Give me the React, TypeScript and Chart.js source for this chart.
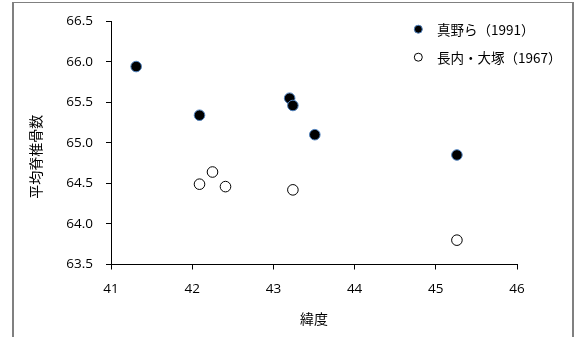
import React, { useEffect, useRef } from "react";
import { Chart, registerables } from "chart.js";

Chart.register(...registerables);

// ---- data ----
const seriesLabels = ["真野ら（1991）", "長内・大塚（1967）"];
const manoLatitude = [41.31, 42.09, 43.2, 43.24, 43.51, 45.26];
const manoVertebrae = [65.94, 65.34, 65.55, 65.46, 65.1, 64.85];
const osanaiLatitude = [42.09, 42.25, 42.41, 43.24, 45.26];
const osanaiVertebrae = [64.49, 64.64, 64.46, 64.42, 63.8];
const xTickValues = [41, 42, 43, 44, 45, 46];
const yTickValues = [63.5, 64.0, 64.5, 65.0, 65.5, 66.0, 66.5];
const xTitle = "緯度";
const yTitle = "平均脊椎骨数";

const W = 574;
const H = 337;
const CJK = '"Noto Sans CJK JP", "Noto Sans CJK SC", sans-serif';
const NUM = '"Open Sans", "Liberation Sans", sans-serif';

const insideLegend = {
  id: "insideLegend",
  afterDraw(chart: any) {
    const ctx = chart.ctx as CanvasRenderingContext2D;
    ctx.save();
    const rows = [29.2, 57.2];
    chart.data.datasets.forEach((ds: any, i: number) => {
      const y = rows[i];
      ctx.beginPath();
      ctx.arc(418.3, y, 4, 0, Math.PI * 2);
      ctx.fillStyle = ds.backgroundColor;
      ctx.fill();
      ctx.lineWidth = 1;
      ctx.strokeStyle = ds.borderColor;
      ctx.stroke();
      ctx.fillStyle = "#000";
      ctx.font = `13.5px ${CJK}`;
      ctx.textAlign = "left";
      ctx.textBaseline = "middle";
      ctx.fillText(ds.label, 437, y + 0.5);
    });
    ctx.restore();
  },
};

export default function App() {
  const ref = useRef<HTMLCanvasElement | null>(null);

  useEffect(() => {
    if (!ref.current) return;
    const chart = new Chart(ref.current, {
      type: "scatter",
      data: {
        datasets: [
          {
            label: seriesLabels[0],
            data: manoLatitude.map((x, i) => ({ x, y: manoVertebrae[i] })),
            backgroundColor: "#000000",
            borderColor: "#4f81bd",
            borderWidth: 1,
            pointRadius: 5.3,
            pointHoverRadius: 5.3,
          },
          {
            label: seriesLabels[1],
            data: osanaiLatitude.map((x, i) => ({ x, y: osanaiVertebrae[i] })),
            backgroundColor: "#ffffff",
            borderColor: "#000000",
            borderWidth: 1,
            pointRadius: 5.3,
            pointHoverRadius: 5.3,
          },
        ],
      },
      options: {
        responsive: false,
        animation: false,
        events: [],
        layout: { padding: { top: 19, right: 57, bottom: 0, left: 0 } },
        plugins: {
          legend: { display: false },
          tooltip: { enabled: false },
        },
        scales: {
          x: {
            type: "linear",
            min: 41,
            max: 46,
            afterBuildTicks: (s: any) => {
              s.ticks = xTickValues.map((v) => ({ value: v }));
            },
            afterFit: (s: any) => {
              s.height = 72.5;
            },
            grid: {
              drawOnChartArea: false,
              drawTicks: true,
              tickLength: 5,
              color: "#000",
            },
            border: { display: true, color: "#000", width: 1 },
            ticks: {
              padding: 12,
              color: "#000",
              font: { family: NUM, size: 13.5 },
              maxRotation: 0,
              callback: (v: any) => String(v),
            },
            title: {
              display: true,
              text: xTitle,
              color: "#000",
              font: { family: CJK, size: 14 },
              padding: { top: 0, bottom: 9.6 },
            },
          },
          y: {
            type: "linear",
            min: 63.5,
            max: 66.5,
            afterBuildTicks: (s: any) => {
              s.ticks = yTickValues.map((v) => ({ value: v }));
            },
            afterFit: (s: any) => {
              s.width = 111;
            },
            grid: {
              drawOnChartArea: false,
              drawTicks: true,
              tickLength: 5,
              color: "#000",
            },
            border: { display: true, color: "#000", width: 1 },
            ticks: {
              padding: 13,
              color: "#000",
              font: { family: NUM, size: 13.5 },
              callback: (v: any) => Number(v).toFixed(1),
            },
            title: {
              display: true,
              text: yTitle + "\u3000\u3000",
              color: "#000",
              font: { family: CJK, size: 14 },
              padding: { top: 27, bottom: 0 },
            },
          },
        },
      },
      plugins: [insideLegend],
    });
    return () => chart.destroy();
  }, []);

  return (
    <div
      style={{
        position: "fixed",
        left: 0,
        top: 0,
        width: W,
        height: H,
        background: "#fff",
        overflow: "hidden",
      }}
    >
      <div
        style={{
          position: "absolute",
          left: 12,
          top: 2,
          width: 562,
          height: 400,
          boxSizing: "border-box",
          borderLeft: "2px solid #808080",
          borderRight: "2px solid #808080",
          borderTop: "1px solid #808080",
        }}
      />
      <canvas
        ref={ref}
        width={W}
        height={H}
        style={{ position: "absolute", left: 0, top: 0, width: W, height: H }}
      />
    </div>
  );
}
